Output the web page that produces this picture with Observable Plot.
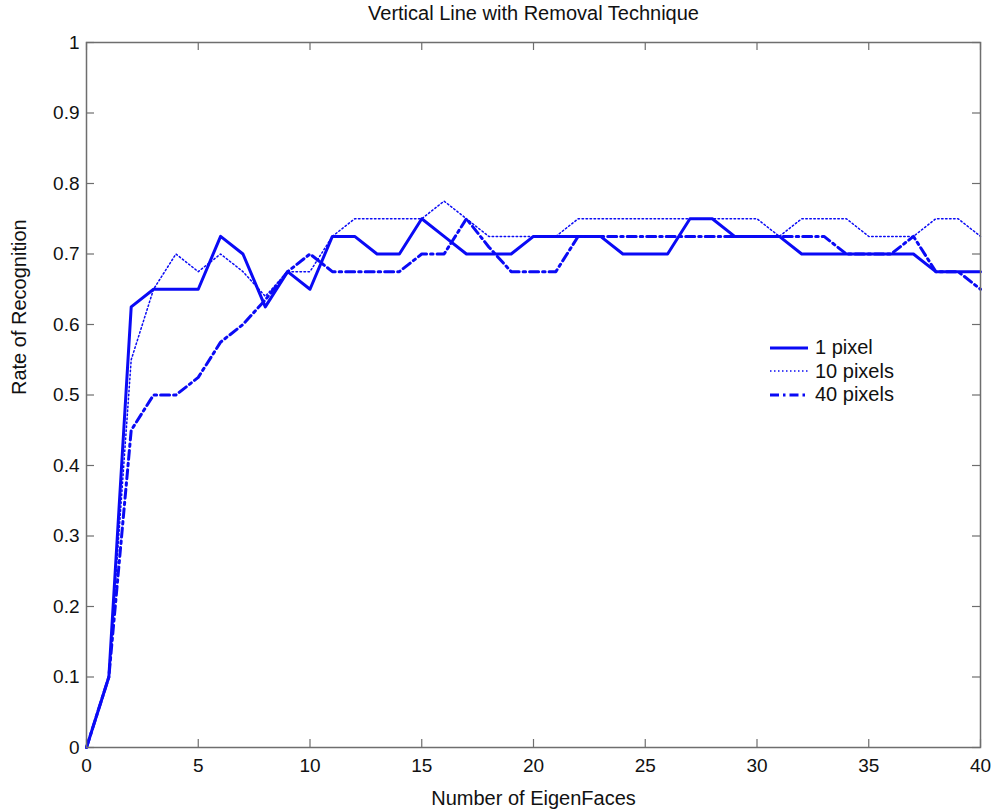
<!DOCTYPE html>
<html>
<head>
<meta charset="utf-8">
<script src="https://cdn.jsdelivr.net/npm/d3@7"></script>
<script src="https://cdn.jsdelivr.net/npm/@observablehq/plot@0.6"></script>
<style>
  html, body { margin: 0; padding: 0; background: #fff; }
  #chart { position: relative; width: 996px; height: 810px; font-family: "Liberation Sans", Arial, sans-serif; }
  #legend { position: absolute; left: 767px; top: 336px; font-size: 20px; color: #111; line-height: 23.5px; }
  #legend div { display: flex; align-items: center; height: 23.5px; }
  #legend svg { margin-right: 7px; }
</style>
</head>
<body>
<div id="chart"><div id="legend"></div></div>
<script>
const title = "Vertical Line with Removal Technique";
const xLabel = "Number of EigenFaces";
const yLabel = "Rate of Recognition";

const eigenFaces = [0,1,2,3,4,5,6,7,8,9,10,11,12,13,14,15,16,17,18,19,20,21,22,23,24,25,26,27,28,29,30,31,32,33,34,35,36,37,38,39,40];

const onePixel = [0,0.1,0.625,0.65,0.65,0.65,0.725,0.7,0.625,0.675,0.65,
  0.725,0.725,0.7,0.7,0.75,0.725,0.7,0.7,0.7,0.725,
  0.725,0.725,0.725,0.7,0.7,0.7,0.75,0.75,0.725,0.725,
  0.725,0.7,0.7,0.7,0.7,0.7,0.7,0.675,0.675,0.675];

const tenPixels = [0,0.1,0.55,0.65,0.7,0.675,0.7,0.675,0.64,0.675,0.675,
  0.725,0.75,0.75,0.75,0.75,0.775,0.75,0.725,0.725,0.725,
  0.725,0.75,0.75,0.75,0.75,0.75,0.75,0.75,0.75,0.75,
  0.725,0.75,0.75,0.75,0.725,0.725,0.725,0.75,0.75,0.725];

const fortyPixels = [0,0.1,0.45,0.5,0.5,0.525,0.575,0.6,0.635,0.675,0.7,
  0.675,0.675,0.675,0.675,0.7,0.7,0.75,0.71,0.675,0.675,
  0.675,0.725,0.725,0.725,0.725,0.725,0.725,0.725,0.725,0.725,
  0.725,0.725,0.725,0.7,0.7,0.7,0.725,0.675,0.675,0.65];

const seriesNames = ["1 pixel", "10 pixels", "40 pixels"];
const xTicks = [0,5,10,15,20,25,30,35,40];
const yTicks = [0,0.1,0.2,0.3,0.4,0.5,0.6,0.7,0.8,0.9,1];

const blue = "#0a0af5";
const styles = [
  {strokeWidth: 3, dash: null},
  {strokeWidth: 1.5, dash: "1.5,2.5"},
  {strokeWidth: 3, dash: "9,4,2.5,4"}
];

const W = 996, H = 810;
const mL = 86, mR = 16, mT = 42, mB = 63;
const plotW = W - mL - mR, plotH = H - mT - mB;
const tickLen = 8;
const axisColor = "#6e6e6e";
const textColor = "#111";

const allSeries = [onePixel, tenPixels, fortyPixels];
const lineMarks = allSeries.map((vals, i) => {
  const rows = eigenFaces.map((x, j) => ({x, y: vals[j]}));
  return Plot.line(rows, {x: "x", y: "y", stroke: blue, strokeWidth: styles[i].strokeWidth, strokeDasharray: styles[i].dash, strokeLinejoin: "round"});
});

const chart = Plot.plot({
  width: W, height: H,
  marginLeft: mL, marginRight: mR, marginTop: mT, marginBottom: mB,
  style: {fontFamily: "Liberation Sans, Arial, sans-serif", fontSize: "19px", color: textColor, background: "#fff"},
  x: {domain: [0, 40]},
  y: {domain: [0, 1]},
  marks: [
    Plot.axisX({ticks: xTicks, tickSize: 0, tickPadding: 11, label: null, fontSize: 19, tickFormat: d => String(d)}),
    Plot.axisY({ticks: yTicks, tickSize: 0, tickPadding: 7, label: null, fontSize: 19, tickFormat: d => String(+d.toFixed(1))}),
    Plot.tickX(xTicks, {x: d => d, insetTop: plotH - tickLen, stroke: axisColor, strokeWidth: 1.2}),
    Plot.tickX(xTicks, {x: d => d, insetBottom: plotH - tickLen, stroke: axisColor, strokeWidth: 1.2}),
    Plot.tickY(yTicks, {y: d => d, insetRight: plotW - tickLen, stroke: axisColor, strokeWidth: 1.2}),
    Plot.tickY(yTicks, {y: d => d, insetLeft: plotW - tickLen, stroke: axisColor, strokeWidth: 1.2}),
    ...lineMarks,
    Plot.frame({stroke: axisColor, strokeWidth: 1.5}),
    Plot.text([title], {frameAnchor: "top", dy: -29, fontSize: 20, fill: textColor, lineAnchor: "middle"}),
    Plot.text([xLabel], {frameAnchor: "bottom", dy: 51, fontSize: 20, fill: textColor, lineAnchor: "middle"}),
    Plot.text([yLabel], {frameAnchor: "left", dx: -67, rotate: -90, fontSize: 20, fill: textColor, lineAnchor: "middle"})
  ]
});

const container = document.getElementById("chart");
container.insertBefore(chart, container.firstChild);

const legend = document.getElementById("legend");
seriesNames.forEach((name, i) => {
  const row = document.createElement("div");
  const dashAttr = styles[i].dash ? ` stroke-dasharray="${styles[i].dash}"` : "";
  row.innerHTML = `<svg width="41" height="10"><line x1="3" y1="5" x2="41" y2="5" stroke="${blue}" stroke-width="${styles[i].strokeWidth}"${dashAttr}/></svg><span>${name}</span>`;
  legend.appendChild(row);
});
</script>
</body>
</html>
